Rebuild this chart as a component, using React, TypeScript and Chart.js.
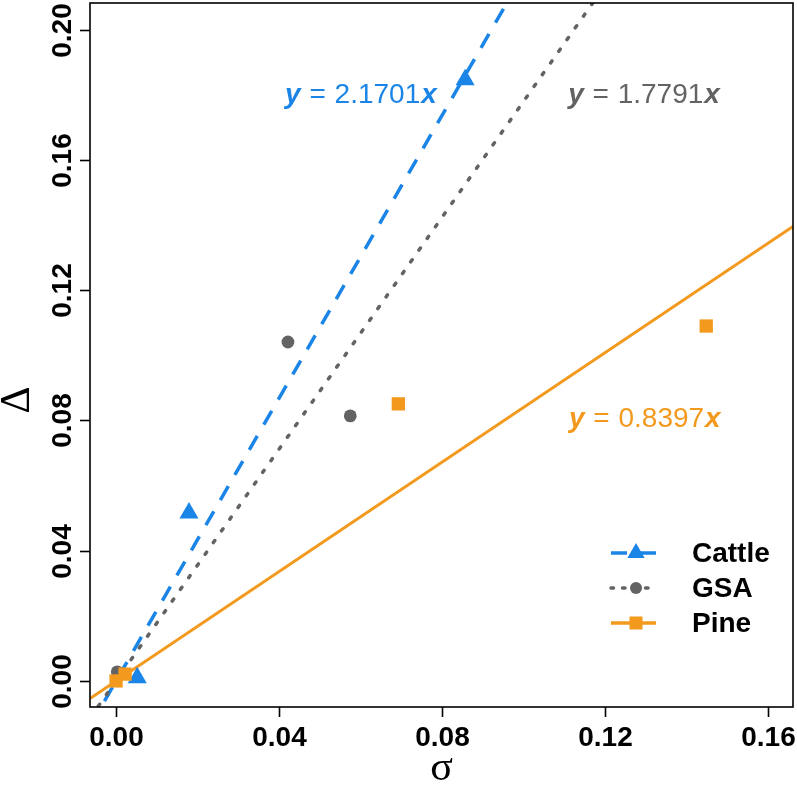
import React, { useEffect, useRef } from "react";
import { Chart, registerables } from "chart.js";

Chart.register(...registerables);

// ---- data ----
const seriesNames = ["Cattle", "GSA", "Pine"];
const cattleSigma = [0.0052, 0.0179, 0.0857];
const cattleDelta = [0.001, 0.0516, 0.1846];
const gsaSigma = [0.0003, 0.0422, 0.0575];
const gsaDelta = [0.0028, 0.1041, 0.0814];
const pineSigma = [0.0, 0.0022, 0.0693, 0.1449];
const pineDelta = [0.0, 0.0021, 0.0851, 0.109];
const slopes = [2.1701, 1.7791, 0.8397];
const xTicks = [0.0, 0.04, 0.08, 0.12, 0.16];
const yTicks = [0.0, 0.04, 0.08, 0.12, 0.16, 0.2];
const xRange = [-0.0064, 0.1662];
const yRange = [-0.008, 0.2082];
// equation label anchors (data coords: left x, baseline y)
const eqAnchorX = [0.0415, 0.111, 0.1112];
const eqAnchorY = [0.1775, 0.1775, 0.078];

const COLORS = ["#1A85E6", "#636363", "#F39A1E"];
const SANS = '"Liberation Sans", Arial, sans-serif';
const SERIF = '"Liberation Serif", "Times New Roman", serif';

const toXY = (xs: number[], ys: number[]) => xs.map((x, i) => ({ x, y: ys[i] }));
const fitLine = (k: number) => [
  { x: xRange[0], y: k * xRange[0] },
  { x: xRange[1], y: k * xRange[1] },
];

const decorPlugin = {
  id: "decor",
  afterDraw(chart: any) {
    const { ctx, chartArea: a, scales } = chart;
    const xs = scales.x;
    const ys = scales.y;
    ctx.save();
    ctx.strokeStyle = "#000";
    ctx.fillStyle = "#000";
    ctx.lineWidth = 1.6;
    ctx.strokeRect(a.left, a.top, a.right - a.left, a.bottom - a.top);

    ctx.font = `bold 28px ${SANS}`;
    ctx.textAlign = "center";
    ctx.textBaseline = "middle";
    xTicks.forEach((v) => {
      const px = Math.round(xs.getPixelForValue(v)) + 0.5;
      ctx.beginPath();
      ctx.moveTo(px, a.bottom);
      ctx.lineTo(px, a.bottom + 10);
      ctx.stroke();
      ctx.fillText(v.toFixed(2), px, 738);
    });
    yTicks.forEach((v) => {
      const py = Math.round(ys.getPixelForValue(v)) + 0.5;
      ctx.beginPath();
      ctx.moveTo(a.left - 10, py);
      ctx.lineTo(a.left, py);
      ctx.stroke();
      ctx.save();
      ctx.translate(63, py);
      ctx.rotate(-Math.PI / 2);
      ctx.fillText(v.toFixed(2), 0, 0);
      ctx.restore();
    });

    // axis titles
    ctx.font = `42px ${SERIF}`;
    ctx.save();
    ctx.translate(18, 400);
    ctx.rotate(-Math.PI / 2);
    ctx.fillText("\u0394", 0, 0);
    ctx.restore();
    ctx.fillText("\u03C3", (a.left + a.right) / 2, 769);

    // equation labels
    ctx.textAlign = "left";
    ctx.textBaseline = "alphabetic";
    slopes.forEach((k, i) => {
      let px = xs.getPixelForValue(eqAnchorX[i]);
      const py = ys.getPixelForValue(eqAnchorY[i]);
      ctx.fillStyle = COLORS[i];
      const parts: [string, string][] = [
        ["y", `italic bold 28px ${SANS}`],
        [" = ", `28px ${SANS}`],
        [k.toFixed(4), `28px ${SANS}`],
        ["x", `italic bold 28px ${SANS}`],
      ];
      parts.forEach(([t, f]) => {
        ctx.font = f;
        ctx.fillText(t, px, py);
        px += ctx.measureText(t).width + 1;
      });
    });

    // legend
    const rowsY = [553, 588, 623];
    const dashes = [[16, 13], [2.5, 9], []];
    seriesNames.forEach((name, i) => {
      const y = rowsY[i];
      ctx.strokeStyle = COLORS[i];
      ctx.fillStyle = COLORS[i];
      ctx.lineWidth = 3.5;
      ctx.setLineDash(dashes[i]);
      ctx.lineCap = i === 1 ? "round" : "butt";
      ctx.beginPath();
      ctx.moveTo(611, y);
      ctx.lineTo(656, y);
      ctx.stroke();
      ctx.setLineDash([]);
      const cx = 636;
      ctx.beginPath();
      if (i === 0) {
        const r = 10;
        ctx.moveTo(cx, y - r);
        ctx.lineTo(cx + r * Math.sin((2 * Math.PI) / 3), y - r * Math.cos((2 * Math.PI) / 3));
        ctx.lineTo(cx - r * Math.sin((2 * Math.PI) / 3), y - r * Math.cos((2 * Math.PI) / 3));
        ctx.closePath();
        ctx.fill();
      } else if (i === 1) {
        ctx.arc(cx, y, 6, 0, Math.PI * 2);
        ctx.fill();
      } else {
        ctx.fillRect(cx - 6.5, y - 6.5, 13, 13);
      }
      ctx.fillStyle = "#000";
      ctx.font = `bold 28px ${SANS}`;
      ctx.textBaseline = "middle";
      ctx.fillText(name, 692, y + 1);
    });
    ctx.restore();
  },
};

export default function App() {
  const ref = useRef<HTMLCanvasElement>(null);
  useEffect(() => {
    document.body.style.margin = "0";
    const chart = new Chart(ref.current!, {
      type: "scatter",
      data: {
        datasets: [
          {
            label: "Pine",
            data: toXY(pineSigma, pineDelta),
            pointStyle: "rect",
            pointRadius: 9.4,
            backgroundColor: COLORS[2],
            borderWidth: 0,
            order: 0,
          } as any,
          {
            label: "Cattle",
            data: toXY(cattleSigma, cattleDelta),
            pointStyle: "triangle",
            pointRadius: 11,
            backgroundColor: COLORS[0],
            borderWidth: 0,
            order: 1,
          },
          {
            label: "GSA",
            data: toXY(gsaSigma, gsaDelta),
            pointStyle: "circle",
            pointRadius: 6.4,
            backgroundColor: COLORS[1],
            borderWidth: 0,
            order: 2,
          },
          {
            type: "line",
            label: "Pine fit",
            data: fitLine(slopes[2]),
            borderColor: COLORS[2],
            borderWidth: 3,
            pointRadius: 0,
            order: 3,
          },
          {
            type: "line",
            label: "GSA fit",
            data: fitLine(slopes[1]),
            borderColor: COLORS[1],
            borderWidth: 3.5,
            borderDash: [2.5, 11.8],
            borderCapStyle: "round",
            pointRadius: 0,
            order: 4,
          },
          {
            type: "line",
            label: "Cattle fit",
            data: fitLine(slopes[0]),
            borderColor: COLORS[0],
            borderWidth: 3.5,
            borderDash: [16, 13],
            pointRadius: 0,
            order: 5,
          },
        ] as any,
      },
      options: {
        responsive: false,
        animation: false,
        layout: { autoPadding: false, padding: { left: 90, right: 4, top: 3, bottom: 82 } },
        plugins: { legend: { display: false }, tooltip: { enabled: false } },
        scales: {
          x: { type: "linear", display: false, min: xRange[0], max: xRange[1] },
          y: { type: "linear", display: false, min: yRange[0], max: yRange[1] },
        },
      },
      plugins: [decorPlugin],
    });
    return () => chart.destroy();
  }, []);
  return (
    <div style={{ position: "absolute", left: 0, top: 0, width: 797, height: 789, background: "#fff" }}>
      <canvas ref={ref} width={797} height={789} />
    </div>
  );
}
